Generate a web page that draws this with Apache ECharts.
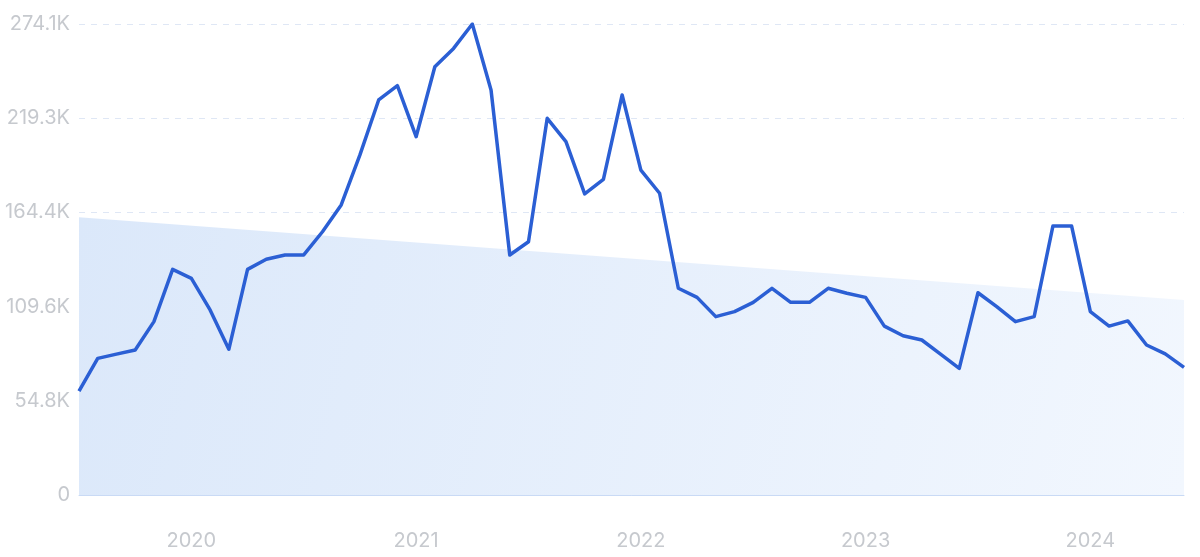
<!DOCTYPE html>
<html>
<head>
<meta charset="utf-8">
<script src="https://cdn.jsdelivr.net/npm/echarts@6/dist/echarts.min.js"></script>
<style>
html,body{margin:0;padding:0;background:#fff;}
#chart{width:1200px;height:557px;}
</style>
</head>
<body>
<div id="chart"></div>
<script>
// Months Jul 2019 .. Jun 2024
const months = [
  '2019-07','2019-08','2019-09','2019-10','2019-11','2019-12',
  '2020-01','2020-02','2020-03','2020-04','2020-05','2020-06','2020-07','2020-08','2020-09','2020-10','2020-11','2020-12',
  '2021-01','2021-02','2021-03','2021-04','2021-05','2021-06','2021-07','2021-08','2021-09','2021-10','2021-11','2021-12',
  '2022-01','2022-02','2022-03','2022-04','2022-05','2022-06','2022-07','2022-08','2022-09','2022-10','2022-11','2022-12',
  '2023-01','2023-02','2023-03','2023-04','2023-05','2023-06','2023-07','2023-08','2023-09','2023-10','2023-11','2023-12',
  '2024-01','2024-02','2024-03','2024-04','2024-05','2024-06'
];
// values in thousands
const values = [
  60.5, 79.5, 82.0, 84.4, 100.9, 131.3,
  126.1, 107.7, 84.8, 131.3, 137.2, 139.7, 139.7, 153.2, 168.8, 197.9, 229.9, 238.2,
  208.5, 249.2, 259.9, 274.1, 235.7, 139.7, 147.4, 219.2, 205.6, 175.2, 183.7, 232.8,
  189.1, 175.6, 120.3, 115.0, 103.8, 106.7, 112.1, 120.3, 112.1, 112.1, 120.3, 117.4,
  115.0, 98.3, 92.7, 90.2, 82.0, 73.7, 117.7, 109.6, 100.9, 103.8, 156.5, 156.5,
  106.7, 98.3, 101.3, 87.3, 82.1, 74.3
];
// trend line endpoints (thousands)
const trendStart = 161.6;
const trendEnd = 113.5;
const yTickLabels = ['0', '54.8K', '109.6K', '164.4K', '219.3K', '274.1K'];
const yMax = 274.1;

const chart = echarts.init(document.getElementById('chart'));
const yInterval = yMax / 5;
chart.setOption({
  animation: false,
  grid: { left: 79, right: 16, top: 24, bottom: 62, containLabel: false },
  xAxis: {
    type: 'category',
    data: months,
    boundaryGap: false,
    axisLine: { show: true, lineStyle: { color: '#c9daf5', width: 1 } },
    axisTick: { show: false },
    splitLine: { show: false },
    axisLabel: {
      interval: function (idx, val) { return val.slice(5) === '01'; },
      formatter: function (val) { return val.slice(0, 4); },
      color: '#c6c9ce',
      fontSize: 20,
      fontFamily: 'Inter',
      margin: 36
    }
  },
  yAxis: {
    type: 'value',
    min: 0,
    max: yMax,
    interval: yInterval,
    axisLine: { show: false },
    axisTick: { show: false },
    splitLine: { show: true, lineStyle: { color: '#dfe7f5', type: [6, 6], width: 1 } },
    axisLabel: {
      color: '#c6c9ce',
      fontSize: 20,
      fontFamily: 'Inter',
      margin: 9,
      formatter: function (v) { return yTickLabels[Math.round(v / yInterval)]; }
    }
  },
  series: [
    {
      type: 'line',
      data: [[0, trendStart], [months.length - 1, trendEnd]],
      symbol: 'none',
      lineStyle: { width: 0 },
      areaStyle: {
        opacity: 1,
        color: new echarts.graphic.LinearGradient(0, 0, 1, 1, [
          { offset: 0, color: '#dbe8fa' },
          { offset: 1, color: '#f2f7fe' }
        ])
      },
      silent: true,
      z: 1
    },
    {
      type: 'line',
      data: values,
      symbol: 'none',
      lineStyle: { color: '#2b5fd4', width: 3.5, join: 'round' },
      z: 3
    }
  ]
});
</script>
</body>
</html>
